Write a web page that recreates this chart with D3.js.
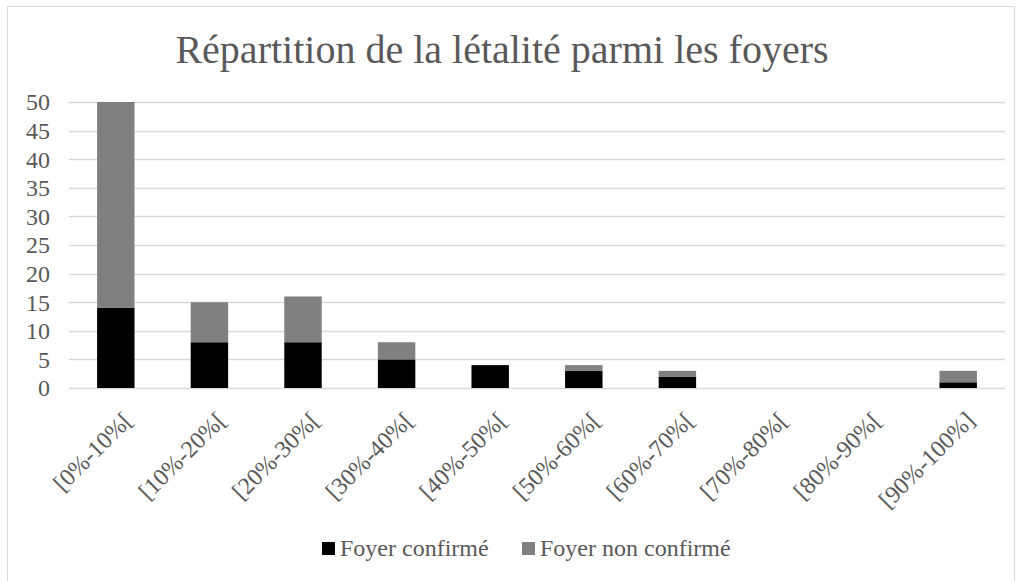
<!DOCTYPE html>
<html>
<head>
<meta charset="utf-8">
<script src="https://cdn.jsdelivr.net/npm/d3@7"></script>
<style>
  body { margin: 0; background: #fff; }
</style>
</head>
<body>
<div id="chart"></div>
<script>
// values
const categories = ["[0%-10%[", "[10%-20%[", "[20%-30%[", "[30%-40%[", "[40%-50%[",
  "[50%-60%[", "[60%-70%[", "[70%-80%[", "[80%-90%[", "[90%-100%]"];
const confirmed = [14, 8, 8, 5, 4, 3, 2, 0, 0, 1];
const nonConfirmed = [36, 7, 8, 3, 0, 1, 1, 0, 0, 2];
const seriesNames = ["Foyer confirmé", "Foyer non confirmé"];
const yTicks = [0, 5, 10, 15, 20, 25, 30, 35, 40, 45, 50];

const colors = ["#000000", "#808080"];
const fontFam = "'Liberation Serif', 'Times New Roman', serif";

const width = 1021, height = 581;
const margin = { left: 69, right: 16, top: 102, bottom: 193 };

const svg = d3.select("#chart").append("svg")
  .attr("width", width)
  .attr("height", height)
  .attr("font-family", fontFam);

// outer frame
svg.append("rect")
  .attr("x", 7.5).attr("y", 6.5)
  .attr("width", 1007).attr("height", 590)
  .attr("fill", "none")
  .attr("stroke", "#d9d9d9");

svg.append("text")
  .attr("x", 502).attr("y", 63)
  .attr("text-anchor", "middle")
  .attr("fill", "#595959")
  .attr("font-size", 40)
  .text("Répartition de la létalité parmi les foyers");

var x = d3.scaleBand()
  .domain(categories)
  .range([margin.left, width - margin.right])
  .paddingInner(0.6)
  .paddingOuter(0.3);

var y = d3.scaleLinear()
  .domain([0, 50])
  .range([height - margin.bottom, margin.top]);

// gridlines
svg.append("g")
  .selectAll("line")
  .data(yTicks)
  .enter().append("line")
  .attr("x1", margin.left)
  .attr("x2", width - margin.right)
  .attr("y1", d => Math.round(y(d)) + 0.5)
  .attr("y2", d => Math.round(y(d)) + 0.5)
  .attr("stroke", "#d9d9d9")
  .attr("stroke-width", 1.5);

// y labels
svg.append("g")
  .selectAll("text")
  .data(yTicks)
  .enter().append("text")
  .attr("x", 50)
  .attr("y", d => y(d))
  .attr("dy", "0.35em")
  .attr("text-anchor", "end")
  .attr("fill", "#595959")
  .attr("font-size", 24)
  .text(d => d);

// stacked bars
var table = categories.map((c, i) => ({ cat: c, a: confirmed[i], b: nonConfirmed[i] }));
var stack = d3.stack().keys(["a", "b"])(table);

svg.append("g")
  .selectAll("g")
  .data(stack)
  .enter().append("g")
  .attr("fill", (d, i) => colors[i])
  .selectAll("rect")
  .data(d => d)
  .enter().append("rect")
  .attr("x", d => x(d.data.cat))
  .attr("width", x.bandwidth())
  .attr("y", d => y(d[1]))
  .attr("height", d => y(d[0]) - y(d[1]));

// x labels rotated
svg.append("g")
  .selectAll("text")
  .data(categories)
  .enter().append("text")
  .attr("transform", d => "translate(" + (x(d) + x.bandwidth() / 2 + 12) + "," + (height - margin.bottom + 28) + ") rotate(-45)")
  .attr("text-anchor", "end")
  .attr("dy", "0.35em")
  .attr("fill", "#595959")
  .attr("font-size", 24)
  .text(d => d);

// legend
var legend = svg.append("g")
  .selectAll("g")
  .data(seriesNames)
  .enter().append("g")
  .attr("transform", (d, i) => "translate(" + (322 + i * 200) + ",548)");

legend.append("rect")
  .attr("x", 0).attr("y", -6)
  .attr("width", 13).attr("height", 13)
  .attr("fill", (d, i) => colors[i]);

legend.append("text")
  .attr("x", 18)
  .attr("dy", "0.35em")
  .attr("fill", "#595959")
  .attr("font-size", 24)
  .text(d => d);
</script>
</body>
</html>
